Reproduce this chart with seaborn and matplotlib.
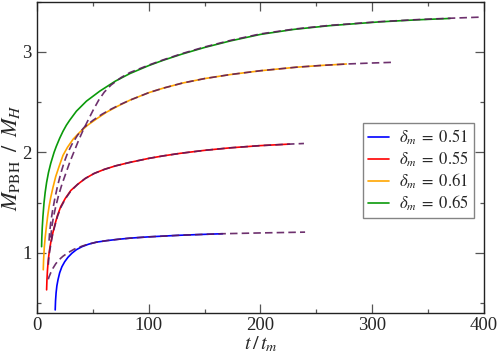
import matplotlib
matplotlib.use("Agg")
import matplotlib.pyplot as plt
import seaborn as sns
import pandas as pd
from matplotlib.ticker import MultipleLocator

# ---- data ----
deltas = ["0.51", "0.55", "0.61", "0.65"]
colors = ["#0000ff", "#ff0000", "#ffa500", "#0a9a0a"]

# delta_m = 0.51 (simulation, solid) and fit (dashed)
t_051 = [16, 16.3, 16.8, 17.5, 18.5, 20, 22, 24.5, 27.5, 31, 35, 40, 46, 53, 62, 72, 83, 100, 128, 150, 166]
m_051 = [0.43, 0.52, 0.60, 0.67, 0.73, 0.80, 0.86, 0.91, 0.955, 0.995, 1.03, 1.06, 1.085, 1.105, 1.12, 1.133, 1.145, 1.158, 1.174, 1.183, 1.189]
tf_051 = [9.8, 10.5, 12, 14, 16.5, 19.5, 23, 27.5, 33, 40, 46, 53, 62, 72, 83, 100, 128, 150, 166, 200, 240]
mf_051 = [0.735, 0.76, 0.80, 0.845, 0.89, 0.93, 0.965, 1.0, 1.035, 1.065, 1.087, 1.105, 1.12, 1.133, 1.145, 1.158, 1.174, 1.183, 1.189, 1.197, 1.205]

# delta_m = 0.55
t_055 = [8.3, 8.6, 9.1, 9.8, 10.8, 12, 13.5, 15.5, 18, 21, 25, 30, 36, 43, 51, 60, 70, 83, 100, 113, 128, 150, 173, 200, 226]
m_055 = [0.63, 0.73, 0.83, 0.93, 1.02, 1.10, 1.18, 1.27, 1.37, 1.46, 1.54, 1.62, 1.68, 1.74, 1.79, 1.83, 1.865, 1.90, 1.94, 1.965, 1.99, 2.02, 2.045, 2.067, 2.082]
tf_055 = [9.8, 10.3, 11, 12, 13.5, 15.5, 18, 21, 25, 30, 36, 43, 51, 60, 70, 83, 100, 113, 128, 150, 173, 200, 226, 239]
mf_055 = [0.88, 0.95, 1.01, 1.08, 1.17, 1.26, 1.36, 1.45, 1.535, 1.615, 1.68, 1.74, 1.79, 1.83, 1.865, 1.90, 1.94, 1.965, 1.99, 2.02, 2.045, 2.067, 2.082, 2.088]

# delta_m = 0.61
t_061 = [5.3, 5.6, 6.2, 7, 8, 9.2, 10.5, 12, 14, 16.5, 19.5, 23, 27, 32, 38, 45, 53, 62, 72, 83, 100, 113, 130, 150, 173, 200, 232, 255, 277]
m_061 = [0.83, 0.93, 1.05, 1.15, 1.25, 1.36, 1.46, 1.55, 1.65, 1.76, 1.86, 1.97, 2.05, 2.13, 2.20, 2.27, 2.333, 2.40, 2.46, 2.52, 2.595, 2.64, 2.69, 2.735, 2.775, 2.813, 2.848, 2.866, 2.88]
tf_061 = [10.5, 11, 12, 13.5, 15.5, 18, 21, 24, 27, 31, 36, 42, 50, 58, 66, 75, 83, 100, 113, 130, 150, 173, 200, 232, 255, 277, 300, 319]
mf_061 = [1.12, 1.20, 1.30, 1.41, 1.53, 1.66, 1.79, 1.90, 1.99, 2.08, 2.17, 2.25, 2.32, 2.38, 2.43, 2.48, 2.52, 2.595, 2.64, 2.69, 2.735, 2.775, 2.813, 2.848, 2.866, 2.88, 2.89, 2.897]

# delta_m = 0.65
t_065 = [3.8, 4.0, 4.4, 5, 6, 7, 8.3, 10, 12, 15, 17, 20, 23, 26, 29, 35, 44, 56, 70, 83, 100, 113, 130, 150, 173, 200, 230, 262, 307, 340, 370]
m_065 = [1.06, 1.15, 1.25, 1.36, 1.50, 1.60, 1.70, 1.80, 1.89, 2.00, 2.06, 2.14, 2.21, 2.27, 2.32, 2.41, 2.51, 2.61, 2.71, 2.785, 2.865, 2.918, 2.98, 3.045, 3.11, 3.175, 3.225, 3.262, 3.30, 3.32, 3.334]
tf_065 = [12, 13, 14.5, 16.5, 19, 22, 25.5, 29, 33, 37, 41, 45, 50, 55, 60, 66, 75, 83, 100, 113, 130, 150, 173, 200, 230, 262, 307, 340, 370, 397]
mf_065 = [1.15, 1.26, 1.36, 1.46, 1.57, 1.68, 1.79, 1.90, 2.01, 2.12, 2.22, 2.31, 2.42, 2.52, 2.60, 2.67, 2.745, 2.795, 2.87, 2.922, 2.985, 3.05, 3.115, 3.18, 3.228, 3.265, 3.302, 3.322, 3.336, 3.347]

sim_t = [t_051, t_055, t_061, t_065]
sim_m = [m_051, m_055, m_061, m_065]
fit_t = [tf_051, tf_055, tf_061, tf_065]
fit_m = [mf_051, mf_055, mf_061, mf_065]

# ---- style ----
sns.set_theme(style="ticks")
plt.rcParams["font.family"] = ["Liberation Serif", "DejaVu Serif"]
plt.rcParams["mathtext.fontset"] = "stix"

fig = plt.figure(figsize=(4.98, 3.56), dpi=100)
ax = fig.add_axes([0.075, 0.121, 0.896, 0.874])

labels = [rf"$\delta_m\;=\;{d}$" for d in deltas]
fit_color = "#5e1a5e"
handles = []
for lab, c, ts, ms in zip(labels, colors, sim_t, sim_m):
    df = pd.DataFrame({"t": ts, "M": ms})
    sns.lineplot(data=df, x="t", y="M", ax=ax, color=c, lw=1.2, sort=False,
                 estimator=None, label=lab, zorder=2)
    handles.append(ax.lines[-1])
for tf, mf in zip(fit_t, fit_m):
    dff = pd.DataFrame({"t": tf, "M": mf})
    sns.lineplot(data=dff, x="t", y="M", ax=ax, color=fit_color, lw=1.2, sort=False,
                 estimator=None, linestyle=(0, (4.5, 2.5)), alpha=0.9,
                 label="_nolegend_", zorder=3)

ax.set_xlim(0, 400)
ax.set_ylim(0.4, 3.5)
ax.xaxis.set_major_locator(MultipleLocator(100))
ax.xaxis.set_minor_locator(MultipleLocator(50))
ax.yaxis.set_major_locator(MultipleLocator(1))
ax.yaxis.set_minor_locator(MultipleLocator(0.5))
ax.tick_params(which="both", direction="in", top=True, right=True,
               color="#555555", width=0.9)
ax.tick_params(which="major", length=6.3, labelsize=13.5, pad=3)
ax.tick_params(which="minor", length=3.1)
ax.tick_params(axis="y", which="major", pad=4)
for s in ax.spines.values():
    s.set_linewidth(1.0)
    s.set_color("#222222")

ax.set_xlabel(r"$t\,/\,t_m$", fontsize=14.5, labelpad=0.5)
ax.set_ylabel(r"$M_{\rm PBH}\;\;/\;\;M_H$", fontsize=16, labelpad=0)

leg = ax.legend(handles=handles, labels=labels,
                loc="upper right", bbox_to_anchor=(0.979, 0.611), fontsize=12,
                frameon=True, fancybox=False, handlelength=1.3, handletextpad=0.6,
                labelspacing=0.15, borderpad=0.3, borderaxespad=0.0)
leg.get_frame().set_edgecolor("#666666")
leg.get_frame().set_linewidth(1.0)

fig.savefig("out.png", dpi=100)
